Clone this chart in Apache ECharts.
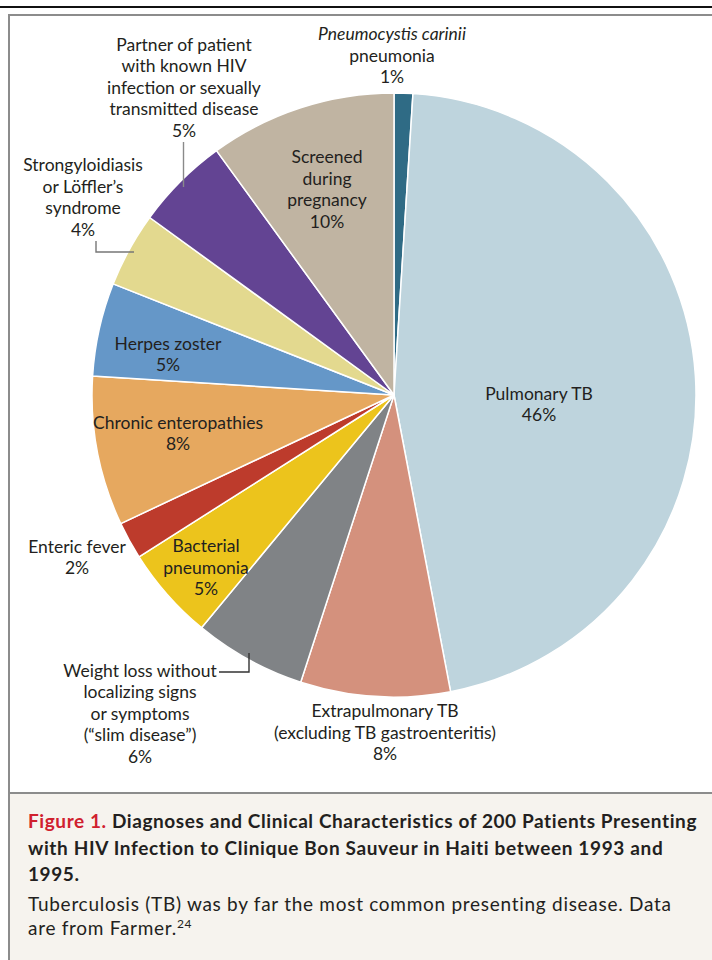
<!DOCTYPE html>
<html><head><meta charset="utf-8">
<script src="https://cdn.jsdelivr.net/npm/echarts@6/dist/echarts.min.js"></script>
<style>
html,body{margin:0;padding:0;background:#fff;}
#wrap{position:relative;width:712px;height:960px;overflow:hidden;font-family:Lato,"Open Sans",sans-serif;}
#topline{position:absolute;left:0;top:6px;width:712px;height:2px;background:#111;}
#panel{position:absolute;left:8px;top:14px;width:740px;height:780px;border:2px solid #8c8c8c;box-sizing:border-box;}
#cap{position:absolute;left:8px;top:792px;width:740px;height:200px;background:#f6f3ee;border-left:2px solid #8c8c8c;border-top:2px solid #8c8c8c;box-sizing:border-box;}
#capTitle{position:absolute;left:18px;top:14px;width:720px;font-weight:bold;font-size:19px;line-height:26.5px;color:#231f20;}
#capTitle .fig{color:#d0202e;}
#capBody{position:absolute;left:18px;top:98px;width:720px;font-size:19px;line-height:24px;color:#231f20;}
.ln{white-space:nowrap;display:inline-block;}
#chart{position:absolute;left:0;top:0;width:712px;height:792px;}
</style></head>
<body>
<div id="wrap">
  <div id="topline"></div>
  <div id="panel"></div>
  <div id="chart"></div>
  <div id="cap">
    <div id="capTitle"><span class="ln" id="t1"><span class="fig">Figure 1.</span> Diagnoses and Clinical Characteristics of 200 Patients Presenting</span><br><span class="ln" id="t2">with HIV Infection to Clinique Bon Sauveur in Haiti between 1993 and</span><br><span class="ln" id="t3">1995.</span></div>
    <div id="capBody"><span class="ln" id="b1">Tuberculosis (TB) was by far the most common presenting disease. Data</span><br><span class="ln" id="b2">are from Farmer.<sup style="font-size:12px;line-height:0;">24</sup></span></div>
  </div>
</div>
<script>
// ---- data ----
var categories = [
  "Pneumocystis carinii pneumonia",
  "Pulmonary TB",
  "Extrapulmonary TB (excluding TB gastroenteritis)",
  "Weight loss without localizing signs or symptoms (\u201cslim disease\u201d)",
  "Bacterial pneumonia",
  "Enteric fever",
  "Chronic enteropathies",
  "Herpes zoster",
  "Strongyloidiasis or L\u00f6ffler\u2019s syndrome",
  "Partner of patient with known HIV infection or sexually transmitted disease",
  "Screened during pregnancy"
];
var values = [1, 46, 8, 6, 5, 2, 8, 5, 4, 5, 10];
var labelLines = [
  ["{it|Pneumocystis carinii}", "pneumonia"],
  ["Pulmonary TB"],
  ["Extrapulmonary TB", "(excluding TB gastroenteritis)"],
  ["Weight loss without", "localizing signs", "or symptoms", "(\u201cslim disease\u201d)"],
  ["Bacterial", "pneumonia"],
  ["Enteric fever"],
  ["Chronic enteropathies"],
  ["Herpes zoster"],
  ["Strongyloidiasis", "or L\u00f6ffler\u2019s", "syndrome"],
  ["Partner of patient", "with known HIV", "infection or sexually", "transmitted disease"],
  ["Screened", "during", "pregnancy"]
];
var colors = ["#2f6b85", "#bed4dd", "#d4917d", "#808386", "#ecc41c", "#bd3b2c", "#e6a85f", "#6597c8", "#e3d98f", "#634493", "#c0b4a2"];

// ---- layout (label placement, not data) ----
var labelPos = [
  {x: 392, y: 55, pos: "outside"},
  {x: 539, y: 404, pos: "inside"},
  {x: 385, y: 732, pos: "outside"},
  {x: 140, y: 713, pos: "outside"},
  {x: 206, y: 567, pos: "inside"},
  {x: 77, y: 557, pos: "outside"},
  {x: 178, y: 433, pos: "inside"},
  {x: 168, y: 354, pos: "inside"},
  {x: 83, y: 197, pos: "outside"},
  {x: 184, y: 87, pos: "outside"},
  {x: 327, y: 189, pos: "inside"}
];
// leader lines for outside labels (annotation callouts)
var leaders = [
  {pts: [[219, 672], [249, 672], [249, 653]], color: '#333333'},
  {pts: [[96, 241], [96, 252], [134, 252]], color: '#777777'},
  {pts: [[183.5, 142], [183.5, 187]], color: '#8a8a8a'}
];

var FONT = 'Lato, "Open Sans", sans-serif';
var seriesData = categories.map(function (c, i) {
  var lp = labelPos[i];
  return {
    name: c,
    value: values[i],
    itemStyle: {color: colors[i]},
    label: {position: lp.pos}
  };
});

var chart = echarts.init(document.getElementById('chart'), null, {renderer: 'svg'});
chart.setOption({
  animation: false,
  graphic: leaders.map(function (l) {
    return {
      type: 'polyline', z: 100,
      shape: {points: l.pts},
      style: {stroke: l.color, lineWidth: 1.4, fill: null}
    };
  }),
  series: [{
    type: 'pie',
    center: [394, 395],
    radius: 302,
    startAngle: 90,
    clockwise: true,
    avoidLabelOverlap: false,
    data: seriesData,
    itemStyle: {borderColor: '#ffffff', borderWidth: 1.5},
    label: {
      show: true,
      color: '#231f20',
      fontFamily: FONT,
      fontSize: 17.5,
      lineHeight: 21.5,
      align: 'center',
      verticalAlign: 'middle',
      formatter: function (p) {
        return labelLines[p.dataIndex].concat([p.value + '%']).join('\n');
      },
      rich: {
        it: {fontStyle: 'italic', fontSize: 17.5, lineHeight: 21.5, color: '#231f20', fontFamily: FONT}
      }
    },
    labelLine: {show: false},
    labelLayout: function (p) {
      var lp = labelPos[p.dataIndex];
      return {x: lp.x, y: lp.y, align: 'center', verticalAlign: 'middle'};
    },
    emphasis: {disabled: true}
  }]
});

// fit caption line widths to the reference
function fit(id, target) {
  var el = document.getElementById(id);
  var n = el.textContent.length;
  var w = el.getBoundingClientRect().width;
  el.style.letterSpacing = ((target - w) / n) + 'px';
}
fit('t1', 670);
fit('t2', 636);
fit('b1', 644);
document.getElementById('t3').style.letterSpacing = document.getElementById('t1').style.letterSpacing;
document.getElementById('b2').style.letterSpacing = document.getElementById('b1').style.letterSpacing;
</script>
</body></html>
